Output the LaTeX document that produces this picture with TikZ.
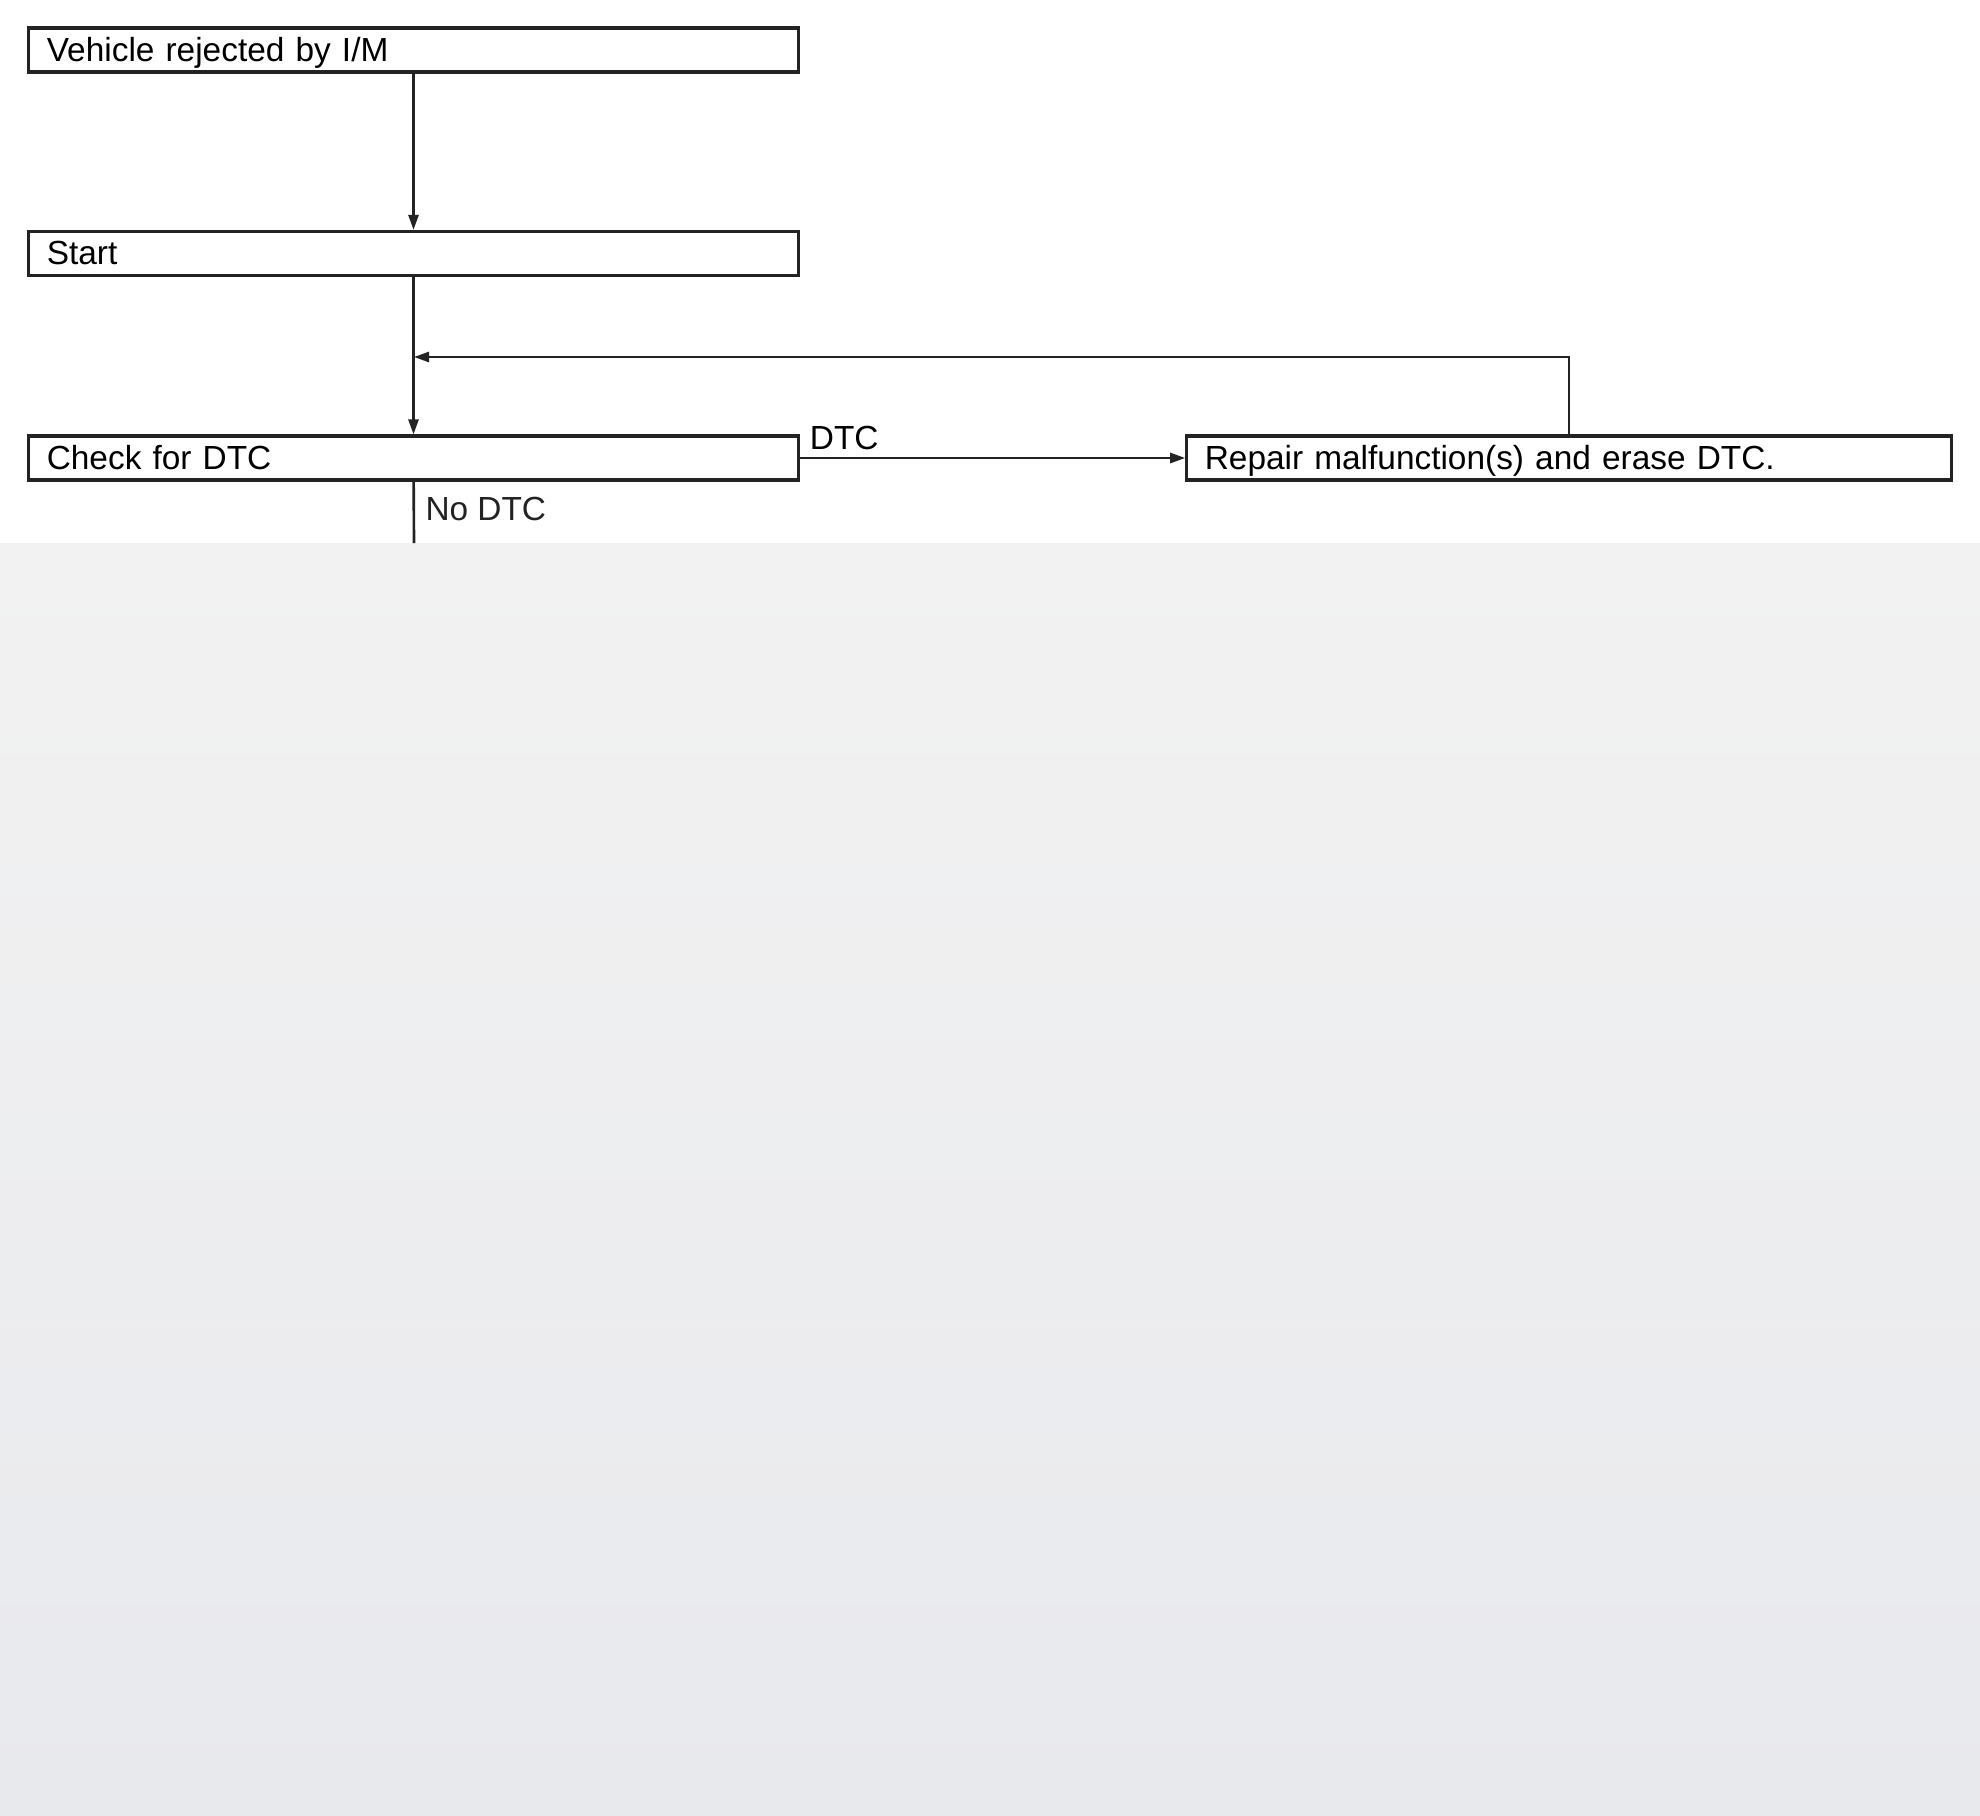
\documentclass[tikz,border=0pt]{standalone}
\usepackage{fontspec}
\setmainfont{Liberation Sans}
\usepackage{xcolor}
\usetikzlibrary{arrows.meta}
\definecolor{boxline}{RGB}{35,35,35}
\definecolor{pagegray}{RGB}{242,242,242}
\definecolor{pagegraydark}{RGB}{232,233,237}

\begin{document}
\begin{tikzpicture}[x=0.01cm, y=-0.01cm,
    stepbox/.style={draw=boxline, line width=0.9pt, minimum height=0.44cm,
        text width=7.33cm, inner xsep=0.18cm, inner ysep=0pt, align=left,
        text height=7.8pt, text depth=1.3pt,
        font=\fontsize{9.5}{11}\selectfont},
    flow/.style={-{Triangle[length=1.5mm,width=1mm]}, line width=0.75pt, draw=boxline},
    tag/.style={font=\fontsize{9.5}{11}\selectfont, inner sep=1pt}]

        % Page
        \useasboundingbox (0,0) rectangle (1980,1815);
        \fill[white] (0,0) rectangle (1980,543);
        \shade[top color=pagegray, bottom color=pagegraydark] (0,543) rectangle (1980,1815);

        % Boxes
        \node[stepbox] (rejected) at (413.5,50) {Vehicle rejected by I/M};
        \node[stepbox] (start) at (413.5,253.5) {Start};
        \node[stepbox] (check) at (413.5,458) {Check for DTC};
        \node[stepbox, text width=7.28cm] (repair) at (1569,458) {Repair malfunction(s) and erase DTC.};

        % Free ends
        \coordinate (loopjoin) at (414,357);
        \coordinate (nodtcend) at (414,543);

        % Connections
        \draw[flow] (rejected) -- (start);
        \draw[flow] (start) -- (check);
        \draw[flow] (check) -- node[tag, pos=0, anchor=south west, xshift=1.5pt, yshift=1pt] {DTC} (repair);
        \draw[flow] (repair.north) |- (loopjoin);
        \draw[line width=0.75pt, boxline] (check) -- node[tag, pos=0, anchor=north west, xshift=2pt, yshift=-3pt] {No DTC} (nodtcend);
    \end{tikzpicture}
\end{document}
